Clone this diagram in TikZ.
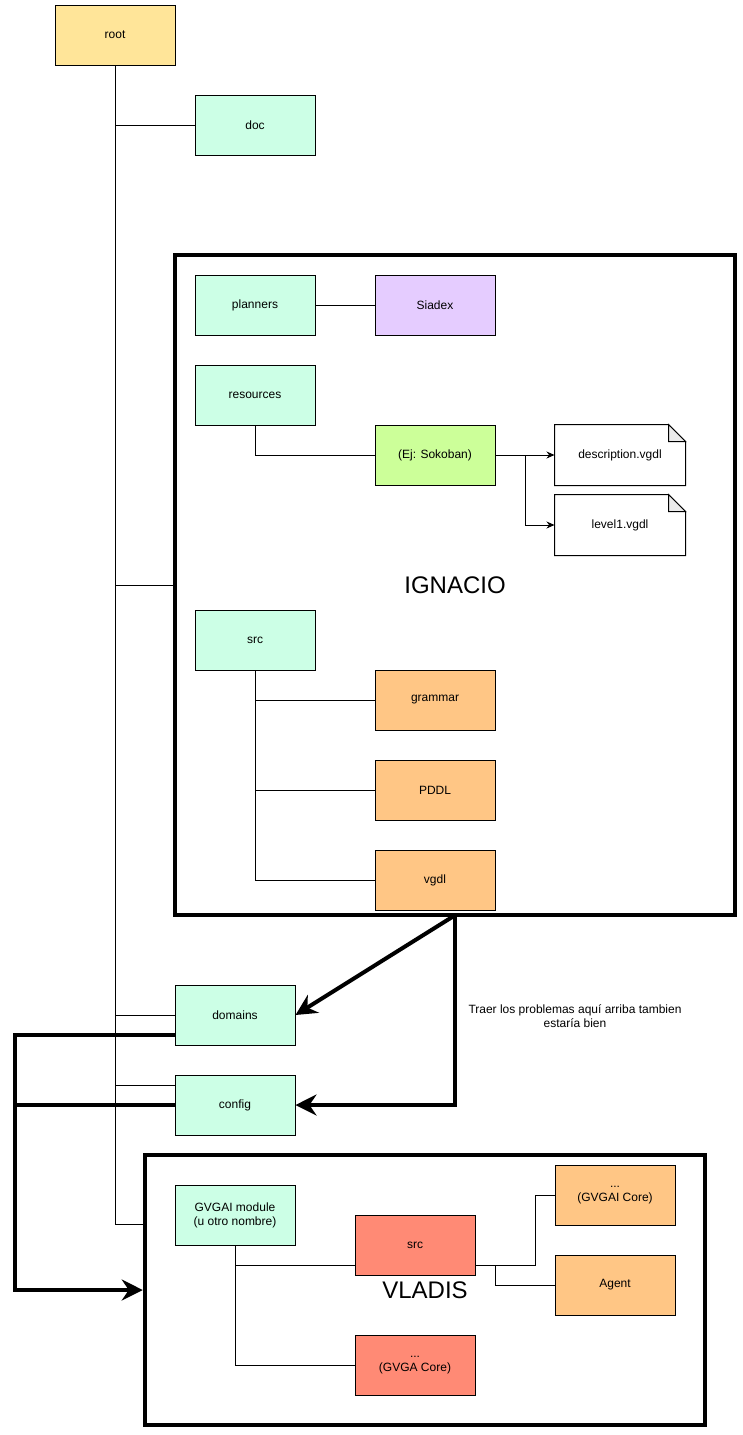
\documentclass[tikz,border=0pt]{standalone}
\usepackage{fontspec}
\setmainfont{Liberation Sans}
\usetikzlibrary{arrows.meta}
\definecolor{rootfill}{HTML}{FFE599}
\definecolor{dirfill}{HTML}{CCFFE6}
\definecolor{planfill}{HTML}{E5CCFF}
\definecolor{gamefill}{HTML}{CCFF99}
\definecolor{codefill}{HTML}{FFC685}
\definecolor{corefill}{HTML}{FF8A75}
\definecolor{foldfill}{HTML}{EBEBEB}

\begin{document}
\begin{tikzpicture}[x=1pt, y=-1pt, line width=1pt, >={Stealth[length=8pt, width=7pt]},
    main/.style = {draw, minimum width=120pt, minimum height=60pt, inner sep=0pt, align=center, font=\fontsize{12}{14}\selectfont},
    file/.style = {minimum width=130pt, minimum height=60pt, inner sep=0pt, font=\fontsize{12}{14}\selectfont},
    group/.style = {draw, line width=4.5pt, minimum width=560pt, font=\fontsize{24}{28}\selectfont},
    bigline/.style = {line width=4pt, -{Stealth[length=21pt, width=21pt, inset=7pt]}}]
    \useasboundingbox (0, 0) rectangle (743, 1435);

    % Nodes
    \node[main, fill=rootfill] (root) at (115, 35) {root};
    \node[main, fill=dirfill] (doc) at (255, 125) {doc};

    \node[group, minimum height=660pt] (ignacio) at (455, 585) {IGNACIO};
    \node[main, fill=dirfill] (planners) at (255, 305) {planners};
    \node[main, fill=planfill] (siadex) at (435, 305) {Siadex};
    \node[main, fill=dirfill] (resources) at (255, 395) {resources};
    \node[main, fill=gamefill] (sokoban) at (435, 455) {(Ej: Sokoban)};
    \node[file] (desc) at (620, 455) {description.vgdl};
    \node[file] (level) at (620, 525) {level1.vgdl};
    \node[main, fill=dirfill] (src) at (255, 640) {src};
    \node[main, fill=codefill] (grammar) at (435, 700) {grammar};
    \node[main, fill=codefill] (pddl) at (435, 790) {PDDL};
    \node[main, fill=codefill] (vgdl) at (435, 880) {vgdl};

    \node[main, fill=dirfill] (domains) at (235, 1015) {domains};
    \node[main, fill=dirfill] (config) at (235, 1105) {config};
    \node[align=center, font=\fontsize{12}{14.5}\selectfont] (note) at (575, 1016) {Traer los problemas aquí arriba tambien\\estaría bien};

    \node[group, minimum height=270pt] (vladis) at (425, 1290) {VLADIS};
    \node[main, fill=dirfill] (gvgai) at (235, 1215) {GVGAI module\\(u otro nombre)};
    \node[main, fill=corefill] (vsrc) at (415, 1245) {src};
    \node[main, fill=corefill] (vcore) at (415, 1365) {...\\(GVGA Core)};
    \node[main, fill=codefill] (gcore) at (615, 1195) {...\\(GVGAI Core)};
    \node[main, fill=codefill] (agent) at (615, 1285) {Agent};
    \coordinate (bend) at (15, 1290);

    % Note shapes
    \foreach \f in {desc, level} {
        \draw (\f.south west) -- (\f.north west) -- ([xshift=-17pt]\f.north east) -- ([yshift=-17pt]\f.north east) -- (\f.south east) -- cycle;
        \draw[fill=foldfill] ([xshift=-17pt]\f.north east) -- ([xshift=-17pt, yshift=-17pt]\f.north east) -- ([yshift=-17pt]\f.north east) -- cycle;
    }

    % Edges
    \draw (root.south) |- (doc.west);
    \draw (root.south) |- (ignacio.west);
    \draw (root.south) |- (domains.west);
    \draw (root.south) |- ([yshift=20pt]config.west);
    \draw (root.south) |- ([yshift=66pt]vladis.west);

    \draw (planners) -- (siadex);
    \draw (resources.south) |- (sokoban.west);
    \draw[->] (sokoban.east) -- (desc.west);
    \draw[->] (sokoban.east) -- ++(30, 0) |- (level.west);
    \draw (src.south) |- (grammar.west);
    \draw (src.south) |- (pddl.west);
    \draw (src.south) |- (vgdl.west);

    \draw (gvgai.south) |- ([yshift=-20pt]vsrc.west);
    \draw (gvgai.south) |- (vcore.west);
    \draw ([yshift=-20pt]vsrc.east) -- ++(60, 0) |- (gcore.west);
    \draw ([yshift=-20pt]vsrc.east) -- ++(20, 0) |- (agent.west);

    \draw[bigline] ([yshift=2pt]ignacio.south) -- (domains.east);
    \draw[bigline] ([yshift=2pt]ignacio.south) |- (config.east);
    \draw[line width=4pt] (config.west) -- (config.west -| bend);
    \draw[bigline] ([yshift=-20pt]domains.west) -| (bend) -- (vladis.west);
\end{tikzpicture}
\end{document}
